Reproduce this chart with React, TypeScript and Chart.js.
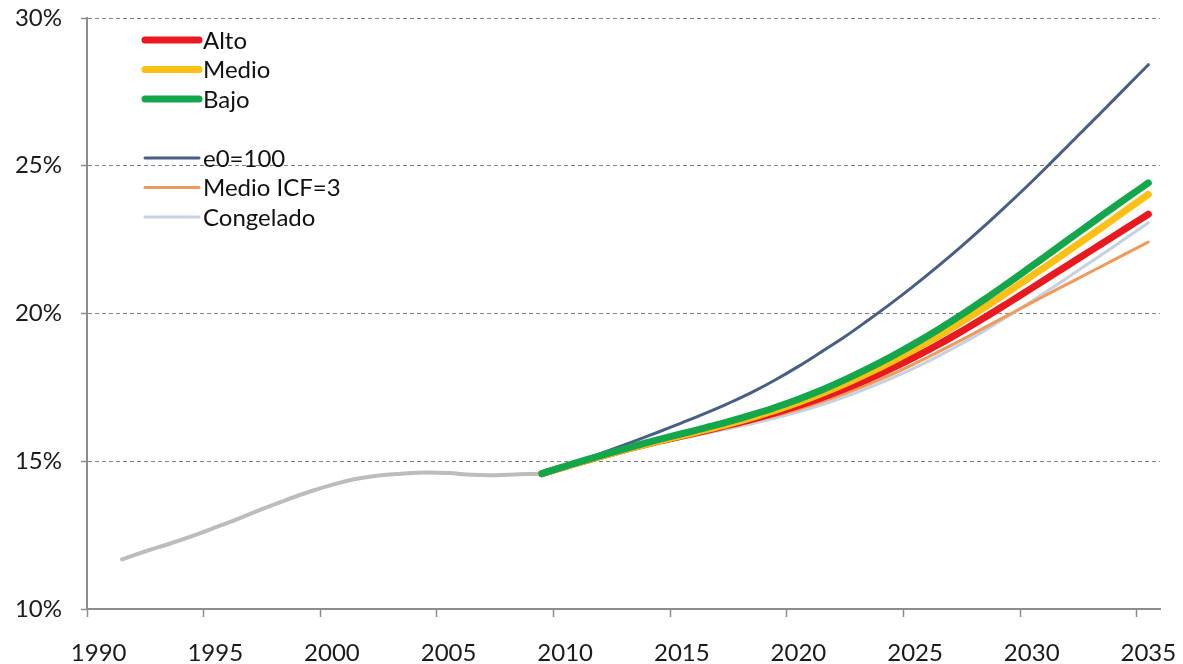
import React, { useEffect, useRef } from 'react';
import { Chart, registerables } from 'chart.js';

Chart.register(...registerables);

const categories = [
  '1990', '1991', '1992', '1993', '1994', '1995', '1996', '1997', '1998', '1999',
  '2000', '2001', '2002', '2003', '2004', '2005', '2006', '2007', '2008', '2009',
  '2010', '2011', '2012', '2013', '2014', '2015', '2016', '2017', '2018', '2019',
  '2020', '2021', '2022', '2023', '2024', '2025', '2026', '2027', '2028', '2029',
  '2030', '2031', '2032', '2033', '2034', '2035',
];

const historyYears = [
  '1991', '1992', '1993', '1994', '1995', '1996', '1997', '1998', '1999', '2000',
  '2001', '2002', '2003', '2004', '2005', '2006', '2007', '2008', '2009',
];
const historyValues = [
  11.68, 11.95, 12.2, 12.47, 12.76, 13.06, 13.38, 13.68, 13.96, 14.2,
  14.4, 14.52, 14.58, 14.62, 14.6, 14.54, 14.53, 14.56, 14.58,
];

const projectionYears = [
  '2009', '2010', '2011', '2012', '2013', '2014', '2015', '2016', '2017', '2018',
  '2019', '2020', '2021', '2022', '2023', '2024', '2025', '2026', '2027', '2028',
  '2029', '2030', '2031', '2032', '2033', '2034', '2035',
];
const alto = [
  14.58, 14.82, 15.05, 15.27, 15.48, 15.67, 15.85, 16.03, 16.22, 16.42,
  16.64, 16.88, 17.15, 17.45, 17.78, 18.14, 18.53, 18.95, 19.4, 19.87,
  20.36, 20.86, 21.36, 21.86, 22.36, 22.86, 23.36,
];
const medio = [
  14.58, 14.82, 15.05, 15.27, 15.48, 15.68, 15.87, 16.06, 16.26, 16.48,
  16.72, 16.99, 17.29, 17.62, 17.98, 18.37, 18.79, 19.24, 19.72, 20.22,
  20.74, 21.27, 21.81, 22.36, 22.91, 23.47, 24.03,
];
const bajo = [
  14.58, 14.83, 15.07, 15.3, 15.52, 15.73, 15.93, 16.13, 16.34, 16.57,
  16.82, 17.1, 17.41, 17.76, 18.14, 18.55, 18.99, 19.46, 19.96, 20.49,
  21.04, 21.6, 22.17, 22.74, 23.31, 23.87, 24.42,
];
const e0 = [
  14.58, 14.85, 15.12, 15.4, 15.69, 15.99, 16.3, 16.62, 16.96, 17.33,
  17.75, 18.21, 18.71, 19.22, 19.78, 20.36, 20.97, 21.61, 22.28, 22.98,
  23.71, 24.46, 25.24, 26.03, 26.82, 27.62, 28.42,
];
const medioIcf3 = [
  14.58, 14.82, 15.05, 15.27, 15.47, 15.66, 15.83, 15.99, 16.16, 16.34,
  16.54, 16.76, 17.01, 17.29, 17.6, 17.94, 18.31, 18.7, 19.11, 19.53,
  19.95, 20.37, 20.78, 21.19, 21.6, 22.01, 22.42,
];
const congelado = [
  14.58, 14.81, 15.03, 15.24, 15.44, 15.62, 15.78, 15.94, 16.1, 16.27,
  16.46, 16.67, 16.91, 17.18, 17.48, 17.81, 18.17, 18.56, 18.98, 19.43,
  19.91, 20.41, 20.93, 21.46, 21.99, 22.53, 23.07,
];

const yTicks = [10, 15, 20, 25, 30];

const FONT = 'Lato, "DejaVu Sans", sans-serif';

const toPoints = (xs: string[], ys: number[]) => xs.map((x, i) => ({ x, y: ys[i] }));

const legendPlugin = {
  id: 'insideLegend',
  afterDraw(chart: any) {
    const ctx = chart.ctx;
    const items = chart.data.datasets.filter((d: any) => d.legendRow !== undefined);
    ctx.save();
    items.forEach((d: any) => {
      const y = 40 + d.legendRow * 29.5;
      ctx.beginPath();
      ctx.lineCap = 'round';
      ctx.lineWidth = d.borderWidth;
      ctx.strokeStyle = d.borderColor;
      ctx.moveTo(145, y);
      ctx.lineTo(199, y);
      ctx.stroke();
      ctx.fillStyle = '#111111';
      ctx.font = `24px ${FONT}`;
      ctx.textBaseline = 'middle';
      ctx.textAlign = 'left';
      ctx.fillText(d.label, 203, y + 1);
    });
    ctx.restore();
  },
};

export default function App() {
  const canvasRef = useRef<HTMLCanvasElement | null>(null);

  useEffect(() => {
    const canvas = canvasRef.current;
    if (!canvas) return;
    const line = (label: string, xs: string[], ys: number[], color: string, width: number, order: number, legendRow?: number) => ({
      label,
      data: toPoints(xs, ys),
      borderColor: color,
      backgroundColor: color,
      borderWidth: width,
      pointRadius: 0,
      tension: 0.4,
      fill: false,
      order,
      legendRow,
      borderCapStyle: 'round',
    });
    const chart = new Chart(canvas, {
      type: 'line',
      data: {
        labels: categories,
        datasets: [
          line('Histórico', historyYears, historyValues, '#bcbcbc', 4, 10),
          line('Congelado', projectionYears, congelado, '#c3d1e2', 3, 7, 6),
          line('Medio ICF=3', projectionYears, medioIcf3, '#ef9a5a', 3, 6, 5),
          line('e0=100', projectionYears, e0, '#475e85', 3, 5, 4),
          line('Alto', projectionYears, alto, '#e8191f', 7, 3, 0),
          line('Medio', projectionYears, medio, '#fcbf14', 7, 2, 1),
          line('Bajo', projectionYears, bajo, '#14a64b', 7, 1, 2),
        ] as any,
      },
      options: {
        responsive: false,
        devicePixelRatio: 1,
        animation: false,
        layout: { padding: { left: 0, right: 23, top: 18, bottom: 0 } },
        plugins: {
          legend: { display: false },
          tooltip: { enabled: false },
        },
        scales: {
          x: {
            type: 'category',
            offset: true,
            afterFit: (s: any) => {
              s.height = 55;
              s.paddingLeft = 0;
              s.paddingRight = 0;
              s.paddingTop = 0;
              s.paddingBottom = 0;
            },
            border: { display: true, color: '#8c8c8c', width: 2 },
            grid: {
              offset: true,
              drawOnChartArea: false,
              drawTicks: true,
              tickLength: 8,
              color: (c: any) => (c.index % 5 === 0 ? '#8c8c8c' : 'rgba(0,0,0,0)'),
              tickColor: (c: any) => (c.index % 5 === 0 ? '#8c8c8c' : 'rgba(0,0,0,0)'),
              tickWidth: 1.5,
            },
            ticks: {
              autoSkip: false,
              maxRotation: 0,
              minRotation: 0,
              padding: 22,
              color: '#1a1a1a',
              font: { family: FONT, size: 24 },
              callback: (_v: any, i: number) => (Number(categories[i]) % 5 === 0 ? categories[i] : ''),
            },
          },
          y: {
            type: 'linear',
            min: 10,
            max: 30,
            afterFit: (s: any) => {
              s.width = 87;
              s.paddingLeft = 0;
              s.paddingRight = 0;
              s.paddingTop = 0;
              s.paddingBottom = 0;
            },
            afterBuildTicks: (s: any) => { s.ticks = yTicks.map((v) => ({ value: v })); },
            border: { display: true, color: '#8c8c8c', width: 2, dash: [4, 3] },
            grid: {
              drawTicks: true,
              tickLength: 6,
              lineWidth: 1,
              color: (c: any) => (c.tick && c.tick.value === 10 ? 'rgba(0,0,0,0)' : '#808080'),
              tickColor: '#8c8c8c',
              tickWidth: 1.5,
              tickBorderDash: [],
            },
            ticks: {
              padding: 19,
              color: '#1a1a1a',
              font: { family: FONT, size: 24 },
              callback: (v: any) => `${v}%`,
            },
          },
        },
      },
      plugins: [legendPlugin],
    });
    return () => chart.destroy();
  }, []);

  return (
    <div style={{ position: 'absolute', left: 0, top: 0, width: 1183, height: 664, background: '#ffffff' }}>
      <canvas ref={canvasRef} width={1183} height={664} style={{ display: 'block' }} />
    </div>
  );
}
